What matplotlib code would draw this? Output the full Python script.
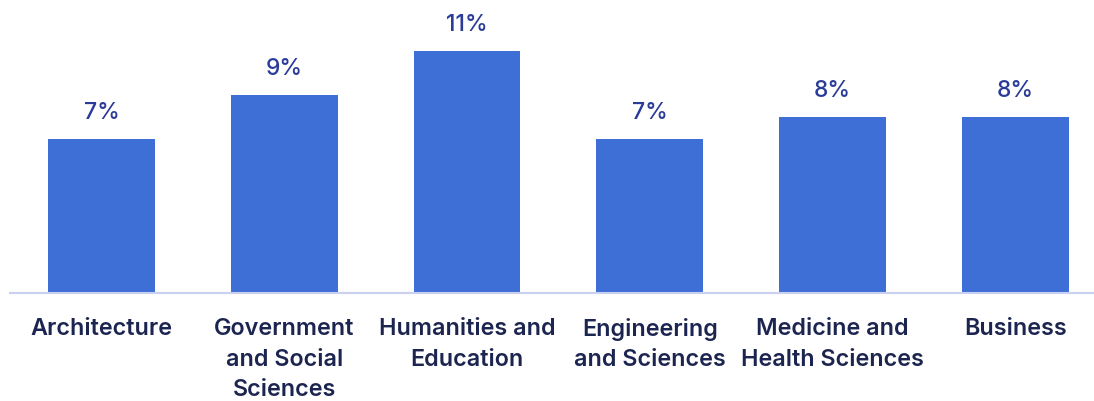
import matplotlib.pyplot as plt
import numpy as np

# share of students by field of study
fields = ['Architecture', 'Government\nand Social\nSciences', 'Humanities and\nEducation',
          'Engineering\nand Sciences', 'Medicine and\nHealth Sciences', 'Business']
shares = [7, 9, 11, 7, 8, 8]

bar_color = '#3d6fd6'
value_color = '#2b3c98'
label_color = '#1c2450'

plt.rcParams['font.family'] = ['Inter', 'DejaVu Sans']

fig = plt.figure(figsize=(10.94, 4.01), dpi=100)
ax = fig.add_axes([10 / 1094, 108 / 401, 1084 / 1094, 286 / 401])

x = np.arange(len(fields))
bars = ax.bar(x, shares, width=0.585, color=bar_color, zorder=2)

for b, v in zip(bars, shares):
    ax.text(b.get_x() + b.get_width() / 2, v + 1.2, f'{v}%', ha='center', va='center',
            fontsize=16.5, color=value_color, fontweight='medium')

ax.set_xlim(-0.5, 5.43)
ax.set_ylim(0, 13)
ax.set_xticks(x)
ax.set_xticklabels(fields, fontsize=16.8, fontweight='semibold', color=label_color,
                   linespacing=1.5, va='top')
ax.tick_params(axis='x', length=0, pad=18)
ax.set_yticks([])

for s in ['top', 'right', 'left']:
    ax.spines[s].set_visible(False)
ax.spines['bottom'].set_color('#c9d0f2')
ax.spines['bottom'].set_linewidth(1.5)

fig.savefig('out.png', dpi=100)
